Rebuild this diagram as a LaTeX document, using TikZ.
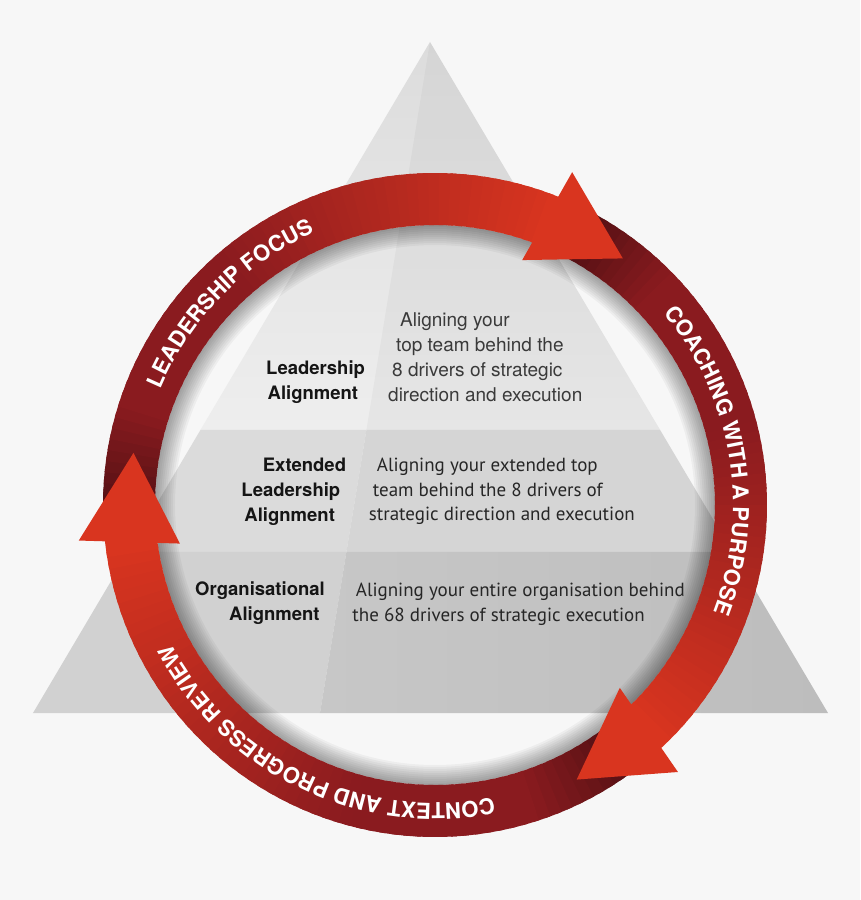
\documentclass[tikz,border=0pt]{standalone}
\usepackage{fontspec}
\setmainfont{TeX Gyre Heros}
\newfontfamily\myriad{PT Sans}
\usepackage{tikz}
\usetikzlibrary{calc,decorations.text}
\definecolor{pagebg}{HTML}{F7F7F7}
\definecolor{ringdark}{HTML}{4C0F12}
\definecolor{ringmid}{HTML}{8A1B1F}
\definecolor{ringbright}{HTML}{D9351F}
\definecolor{tiertopa}{HTML}{DCDCDC}
\definecolor{tiertopb}{HTML}{EEEEEE}
\definecolor{tiermidl}{HTML}{DBDBDB}
\definecolor{tiermidr}{HTML}{D5D5D5}
\definecolor{tierbotl}{HTML}{D1D1D1}
\definecolor{tierbotr}{HTML}{C7C7C7}
\definecolor{tierbotrr}{HTML}{BDBDBD}
\definecolor{labtext}{HTML}{151515}
\definecolor{desctext}{HTML}{3A3A3A}
\newcommand{\ringfont}{\fontsize{22}{22}\selectfont\bfseries\color{white}}
\def\ringin{280}
\def\ringout{332}
% band of the ring, clockwise from #1 to #2, dark tail to bright head
\newcommand{\ringband}[2]{%
  \foreach \k in {0,...,59}{%
    \pgfmathsetmacro{\aone}{#1+(#2-#1)*\k/60}%
    \pgfmathsetmacro{\atwo}{#1+(#2-#1)*(\k+1.5)/60}%
    \pgfmathsetmacro{\bandt}{\k/59}%
    \pgfmathtruncatemacro{\pdark}{min(100,\bandt/0.18*100)}%
    \pgfmathtruncatemacro{\pbright}{max(0,(\bandt-0.45)/0.55*100)}%
    \ifnum\pbright>0 \colorlet{bandcol}{ringbright!\pbright!ringmid}%
    \else\colorlet{bandcol}{ringmid!\pdark!ringdark}\fi
    \fill[bandcol] (\aone:\ringin) arc[start angle=\aone,end angle=\atwo,radius=\ringin]
      -- (\atwo:\ringout) arc[start angle=\atwo,end angle=\aone,radius=\ringout] -- cycle;
  }}

\begin{document}
\begin{tikzpicture}[x=1pt,y=1pt,
  lab/.style={anchor=north west,inner sep=0pt,align=left,text=labtext,
              font=\fontsize{18.5}{25}\selectfont\bfseries},
  desc/.style={anchor=north west,inner sep=0pt,align=left,text=desctext,
               font=\fontsize{19}{25}\selectfont},
  mdesc/.style={desc,text=black!85,font=\myriad\fontsize{19}{24.2}\selectfont},
  ringtext/.style={decorate,decoration={text along path,text align=center,
                   text={|\ringfont|#1}}}]
  \fill[pagebg] (-435,-395) rectangle (425,505);
  \useasboundingbox (-435,-395) rectangle (425,505);

  % pyramid
  \coordinate (apex) at (-5,463);
  \coordinate (bl) at (-402,-208);
  \coordinate (br) at (393,-208);
  \coordinate (bs) at (-115,-208);
  \coordinate (l1) at ($(apex)!0.578!(bl)$);
  \coordinate (r1) at ($(apex)!0.578!(br)$);
  \coordinate (s1) at ($(apex)!0.578!(bs)$);
  \coordinate (l2) at ($(apex)!0.760!(bl)$);
  \coordinate (r2) at ($(apex)!0.760!(br)$);
  \coordinate (s2) at ($(apex)!0.760!(bs)$);
  \shade[top color=tiertopa,bottom color=tiertopb] (apex) -- (l1) -- (r1) -- cycle;
  \fill[black,opacity=0.03] (apex) -- (s1) -- (r1) -- cycle;
  \fill[tiermidl] (l1) -- (l2) -- (s2) -- (s1) -- cycle;
  \fill[tiermidr] (s1) -- (s2) -- (r2) -- (r1) -- cycle;
  \fill[tierbotl] (l2) -- (bl) -- (bs) -- (s2) -- cycle;
  \shade[left color=tierbotr,right color=tierbotrr] (s2) -- (bs) -- (br) -- (r2) -- cycle;

  % shadow inside the ring
  \begin{scope}
    \clip (0,0) circle (\ringin);
    \foreach \w in {4,8,...,40}
      \draw[black,opacity=0.04,line width=\w pt] (0,0) circle (\ringin);
  \end{scope}

  % ring of three arrows
  \ringband{184}{68}
  \ringband{65}{-46.5}
  \ringband{-49}{-173}
  \fill[ringbright] (67.6:360) -- (52.7:310) -- (70.4:260) -- cycle;
  \fill[ringbright] (-47.7:361) -- (-62.7:309) -- (-44.7:260) -- cycle;
  \fill[ringbright] (185.7:358) -- (170.2:306) -- (188.6:258) -- cycle;

  \path[ringtext={LEADERSHIP FOCUS}] (175:298) arc[start angle=175,end angle=96,radius=298];
  \path[ringtext={COACHING WITH A PURPOSE}] (60:298) arc[start angle=60,end angle=-41,radius=298];
  \path[ringtext={CONTEXT AND PROGRESS REVIEW}] (-58:298) arc[start angle=-58,end angle=-173,radius=298];

  % tiers
  \node[lab] (toplab) at (-169,144.5) {Leadership\\\hspace*{1.5pt}Alignment};
  \node[desc] (topdesc) at (-47,192.8) {\hspace*{12pt}Aligning your\\\hspace*{8pt}top team behind the\\
    \hspace*{4pt}8 drivers of strategic\\direction and execution};
  \node[lab] (midlab) at (-193.7,47.5) {\hspace*{21.4pt}Extended\\Leadership\\\hspace*{3pt}Alignment};
  \node[mdesc] (middesc) at (-66.3,46.8) {\hspace*{8pt}Aligning your extended top\\
    \hspace*{4pt}team behind the 8 drivers of\\strategic direction and execution};
  \node[lab] (botlab) at (-240,-76.5) {Organisational\\\hspace*{34pt}Alignment};
  \node[mdesc] (botdesc) at (-82.7,-78.2) {\hspace*{3.4pt}Aligning your entire organisation behind\\
    the 68 drivers of strategic execution};
\end{tikzpicture}
\end{document}
